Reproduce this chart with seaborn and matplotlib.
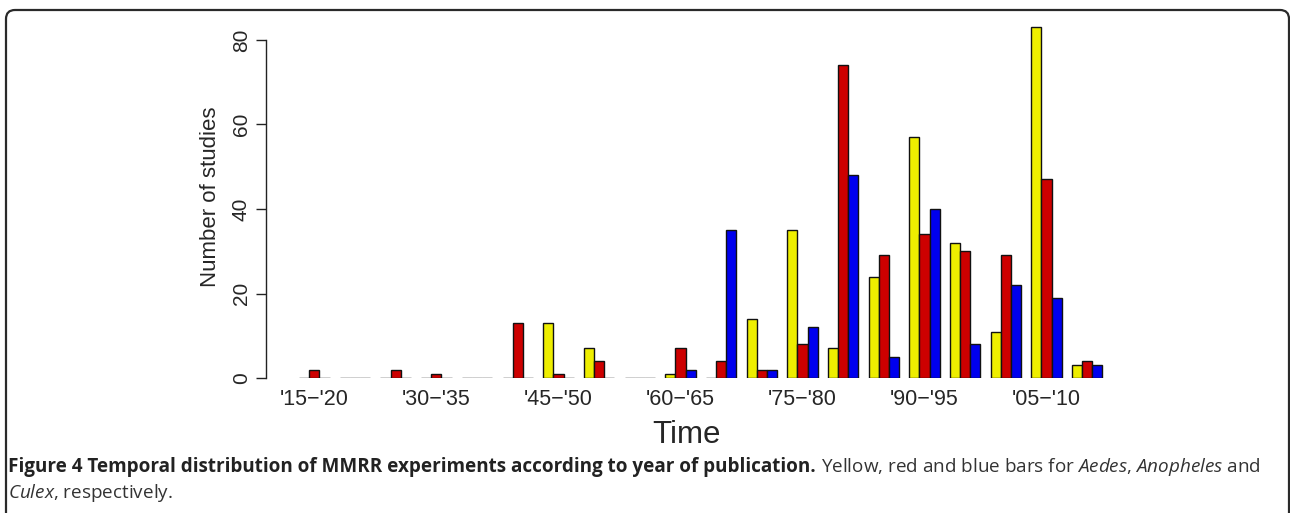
import pandas as pd
import matplotlib
matplotlib.use("Agg")
import matplotlib.pyplot as plt
import seaborn as sns
from matplotlib.patches import FancyBboxPatch
from matplotlib.transforms import IdentityTransform

# Данные: число исследований по пятилетиям
periods = ["'15−'20", "'20−'25", "'25−'30", "'30−'35", "'35−'40", "'40−'45", "'45−'50",
           "'50−'55", "'55−'60", "'60−'65", "'65−'70", "'70−'75", "'75−'80", "'80−'85",
           "'85−'90", "'90−'95", "'95−'00", "'00−'05", "'05−'10", "'10−'15"]
aedes = [0, 0, 0, 0, 0, 0, 13, 7, 0, 1, 0, 14, 35, 7, 24, 57, 32, 11, 83, 3]
anopheles = [2, 0, 2, 1, 0, 13, 1, 4, 0, 7, 4, 2, 8, 74, 29, 34, 30, 29, 47, 4]
culex = [0, 0, 0, 0, 0, 0, 0, 0, 0, 2, 35, 2, 12, 48, 5, 40, 8, 22, 19, 3]
genera = ["Aedes", "Anopheles", "Culex"]
colors = ["#EEEE00", "#CD0000", "#0000EE"]
shown_labels = ["'15−'20", "'30−'35", "'45−'50", "'60−'65", "'75−'80", "'90−'95", "'05−'10"]

df = pd.DataFrame({"period": periods * 3,
                   "count": aedes + anopheles + culex,
                   "genus": [g for g in genera for _ in periods]})

sns.set_style("white")
plt.rcParams['font.family'] = ['Liberation Sans', 'DejaVu Sans']
plt.rcParams['mathtext.fontset'] = 'custom'
plt.rcParams['mathtext.rm'] = 'Open Sans'
plt.rcParams['mathtext.it'] = 'Open Sans:italic'

W, H = 1290, 513
fig = plt.figure(figsize=(W / 100, H / 100), dpi=100)

# рамка вокруг рисунка в пикселях (низ уходит за картинку)
frame = FancyBboxPatch((6, -40), 1283, H - 10 + 40,
                       boxstyle="round,pad=0,rounding_size=9",
                       transform=IdentityTransform(), fill=False,
                       edgecolor="#2a2a2a", linewidth=1.6, clip_on=False)
fig.patches.append(frame)

# оси: 0 на y=378 px, 86 на y~14.7 px; x от 266 до 1107.5 px
left, right = 266, 1107.5
bottom, top = 378, 378 - 86 * 338 / 80
ax = fig.add_axes([left / W, 1 - bottom / H, (right - left) / W, (bottom - top) / H])

sns.barplot(data=df, x="period", y="count", hue="genus", order=periods,
            hue_order=genera, palette=colors, width=0.75, gap=0,
            edgecolor="#111111", linewidth=1.0, legend=False, ax=ax,
            errorbar=None, saturation=1)

ax.set_xlim(-1.19, 19.5)
ax.set_ylim(0, 86)
for s in ["top", "right", "bottom"]:
    ax.spines[s].set_visible(False)
ax.spines["left"].set_bounds(0, 80)
ax.spines["left"].set_color("#222222")
ax.spines["left"].set_linewidth(1.0)

ax.set_yticks([0, 20, 40, 60, 80])
ax.set_yticklabels(["0", "20", "40", "60", "80"], rotation=90, va="center", fontsize=15)
ax.tick_params(axis="y", length=7, width=1.0, color="#222222", pad=4, left=True)

ax.set_xticks([periods.index(p) for p in shown_labels])
ax.set_xticklabels(shown_labels, fontsize=15.5)
ax.tick_params(axis="x", length=0, pad=8)

ax.set_xlabel("Time", fontsize=22.5, labelpad=7)
ax.set_ylabel("Number of studies", fontsize=16, labelpad=8)

# подпись к рисунку
fig.canvas.draw()
renderer = fig.canvas.get_renderer()
size = 13.6
x0 = 8
t1 = fig.text(x0 / W, 1 - 467 / H,
              "Figure 4 Temporal distribution of MMRR experiments according to year of publication.",
              family=['Open Sans', 'DejaVu Sans'], fontsize=size, fontweight="bold",
              va="center", ha="left", color="#222222")
w1 = t1.get_window_extent(renderer=renderer).width
fig.text((x0 + w1 + 5) / W, 1 - 467 / H,
         r"Yellow, red and blue bars for $\mathit{Aedes}$, $\mathit{Anopheles}$ and",
         family=['Open Sans', 'DejaVu Sans'], fontsize=size, va="center", ha="left",
         color="#333333")
fig.text(x0 / W, 1 - 493 / H, r"$\mathit{Culex}$, respectively.",
         family=['Open Sans', 'DejaVu Sans'], fontsize=size, va="center", ha="left",
         color="#333333")

fig.savefig("out.png", dpi=100)
